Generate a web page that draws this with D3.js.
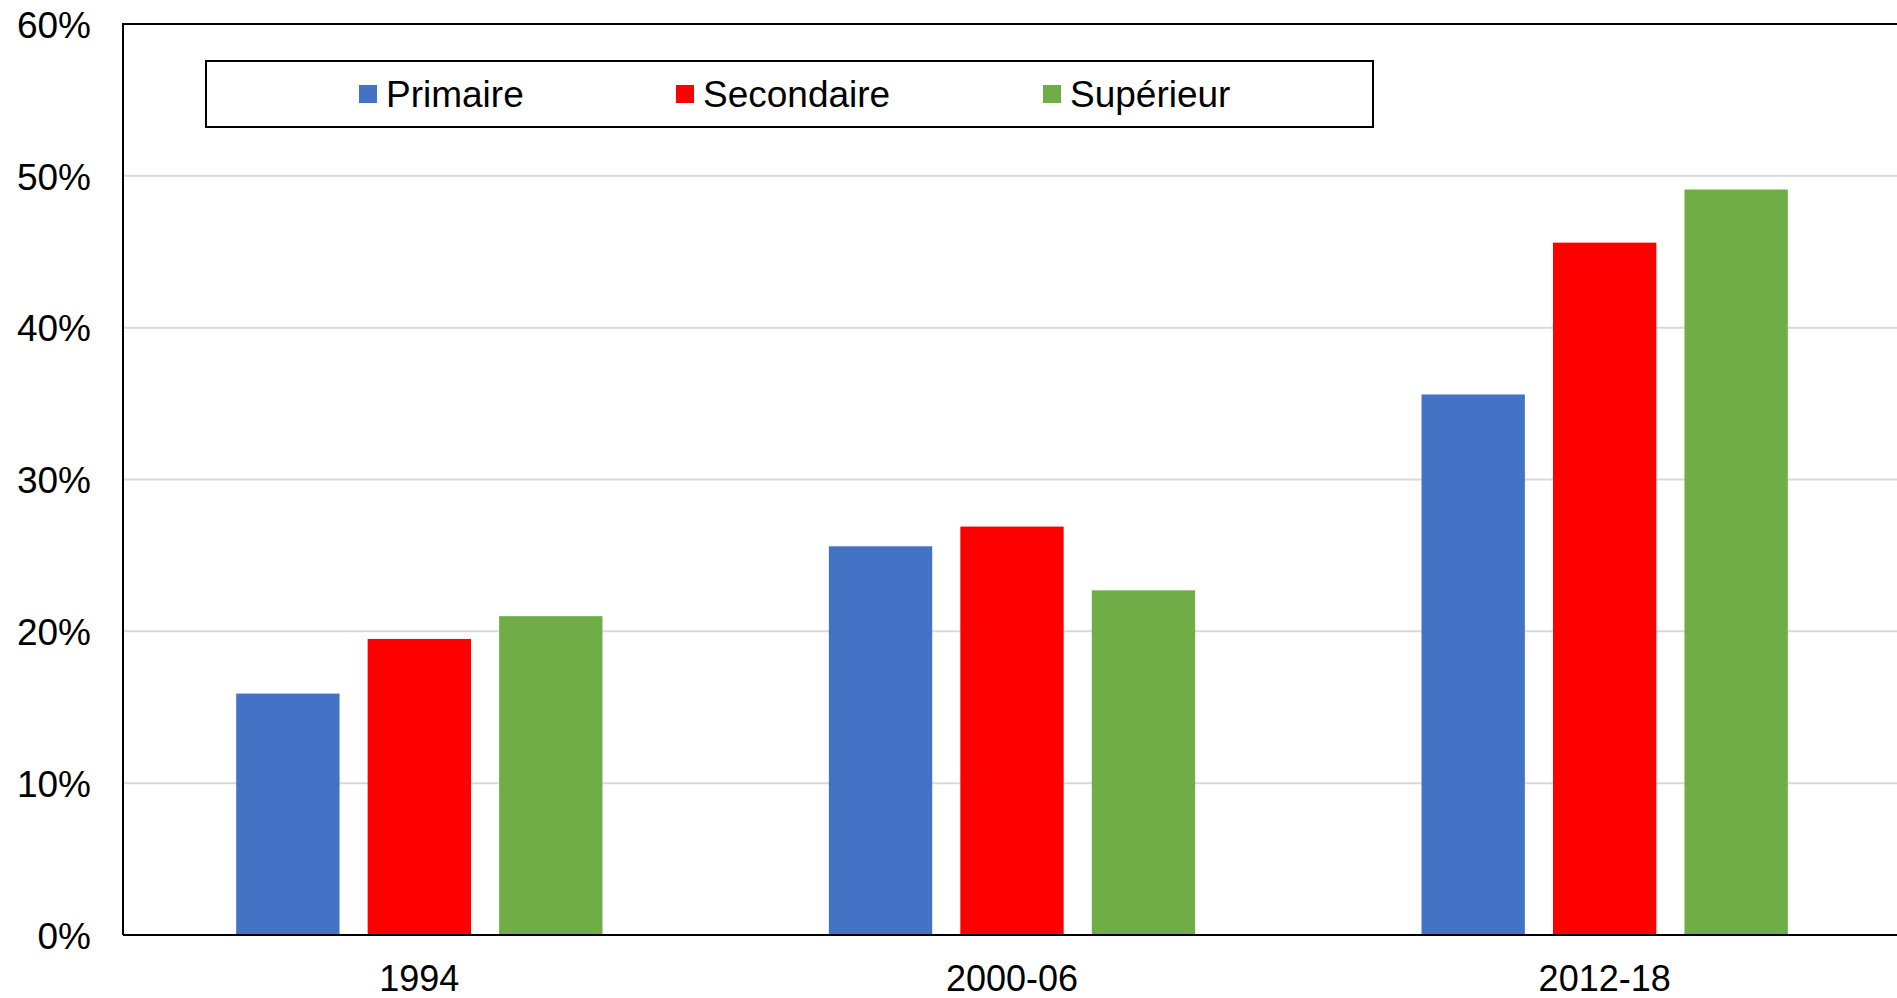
<!DOCTYPE html>
<html>
<head>
    <meta charset="utf-8">
    <title>Primaire / Secondaire / Supérieur</title>
    <script src="https://d3js.org/d3.v7.min.js"></script>
    <style>
        body {
            margin: 0;
            padding: 0;
            background-color: #ffffff;
            overflow: hidden;
        }
        .chart text {
            font-family: 'Liberation Sans', Arial, sans-serif;
            font-size: 37px;
            fill: #000000;
        }
        .grid line {
            stroke: #d9d9d9;
            stroke-width: 2px;
        }
    </style>
</head>
<body>
    <div id="chart"></div>

    <script>
        const categories = ["1994", "2000-06", "2012-18"];
        const seriesNames = ["Primaire", "Secondaire", "Supérieur"];
        const primaire = [0.159, 0.256, 0.356];
        const secondaire = [0.195, 0.269, 0.456];
        const superieur = [0.210, 0.227, 0.491];
        const yTicks = [0, 0.1, 0.2, 0.3, 0.4, 0.5, 0.6];

        const colors = ["#4472C4", "#FF0000", "#70AD47"];
        const values = [primaire, secondaire, superieur];

        const W = 1897, H = 998;
        // plot area runs slightly past the right edge of the window
        const margin = {top: 24, right: -4, bottom: 63, left: 123};

        const svg = d3.select("#chart")
            .append("svg")
                .attr("class", "chart")
                .attr("width", W)
                .attr("height", H);

        const x0 = d3.scaleBand()
            .domain(categories)
            .range([margin.left, W - margin.right])
            .paddingInner(0.382)
            .paddingOuter(0.191);

        const x1 = d3.scaleBand()
            .domain(seriesNames)
            .range([0, x0.bandwidth()])
            .paddingInner(0.214)
            .paddingOuter(0);

        const y = d3.scaleLinear()
            .domain([0, 0.6])
            .range([H - margin.bottom, margin.top]);

        // gridlines
        svg.append("g")
            .attr("class", "grid")
            .selectAll("line")
            .data(yTicks.slice(1, -1))
            .enter().append("line")
                .attr("x1", margin.left)
                .attr("x2", W)
                .attr("y1", d => y(d))
                .attr("y2", d => y(d));

        // bars
        const groups = svg.append("g")
            .selectAll("g")
            .data(categories)
            .enter().append("g")
                .attr("transform", d => "translate(" + x0(d) + ",0)");

        groups.selectAll("rect")
            .data((c, ci) => seriesNames.map((s, si) => ({s: s, v: values[si][ci], i: si})))
            .enter().append("rect")
                .attr("x", d => x1(d.s))
                .attr("width", x1.bandwidth())
                .attr("y", d => y(d.v))
                .attr("height", d => y(0) - y(d.v))
                .style("fill", d => colors[d.i]);

        // plot border (left + top)
        svg.append("path")
            .attr("d", "M" + W + "," + y(0.6) + "H" + margin.left + "V" + y(0))
            .style("fill", "none")
            .style("stroke", "#000")
            .style("stroke-width", 2);

        // y axis
        const yAxis = svg.append("g")
            .attr("transform", "translate(" + margin.left + ",0)")
            .call(d3.axisLeft(y)
                .tickValues(yTicks)
                .tickFormat(d3.format(".0%"))
                .tickSize(0)
                .tickPadding(32));
        yAxis.select(".domain").remove();
        yAxis.selectAll("text")
            .attr("dy", "0.36em")
            .style("font-family", "'Liberation Sans', Arial, sans-serif")
            .style("font-size", "37px")
            .style("fill", "#000");

        // x axis
        const xAxis = svg.append("g")
            .attr("transform", "translate(0," + y(0) + ")")
            .call(d3.axisBottom(x0)
                .tickSize(0)
                .tickSizeOuter(0)
                .tickPadding(30));
        xAxis.select(".domain")
            .attr("d", "M" + margin.left + ",0H" + W)
            .style("stroke", "#000")
            .style("stroke-width", 2);
        xAxis.selectAll("text")
            .style("font-family", "'Liberation Sans', Arial, sans-serif")
            .style("font-size", "36px")
            .style("fill", "#000");

        // legend
        const legend = svg.append("g");
        legend.append("rect")
            .attr("x", 206)
            .attr("y", 61)
            .attr("width", 1167)
            .attr("height", 66)
            .style("fill", "#fff")
            .style("stroke", "#000")
            .style("stroke-width", 2);

        const legendX = [359, 676, 1043];
        const items = legend.selectAll(".item")
            .data(seriesNames)
            .enter().append("g")
                .attr("class", "item")
                .attr("transform", (d, i) => "translate(" + legendX[i] + ",0)");
        items.append("rect")
            .attr("x", 0)
            .attr("y", 85)
            .attr("width", 18)
            .attr("height", 18)
            .style("fill", (d, i) => colors[i]);
        items.append("text")
            .attr("x", 27)
            .attr("y", 107)
            .text(d => d);
    </script>
</body>
</html>
